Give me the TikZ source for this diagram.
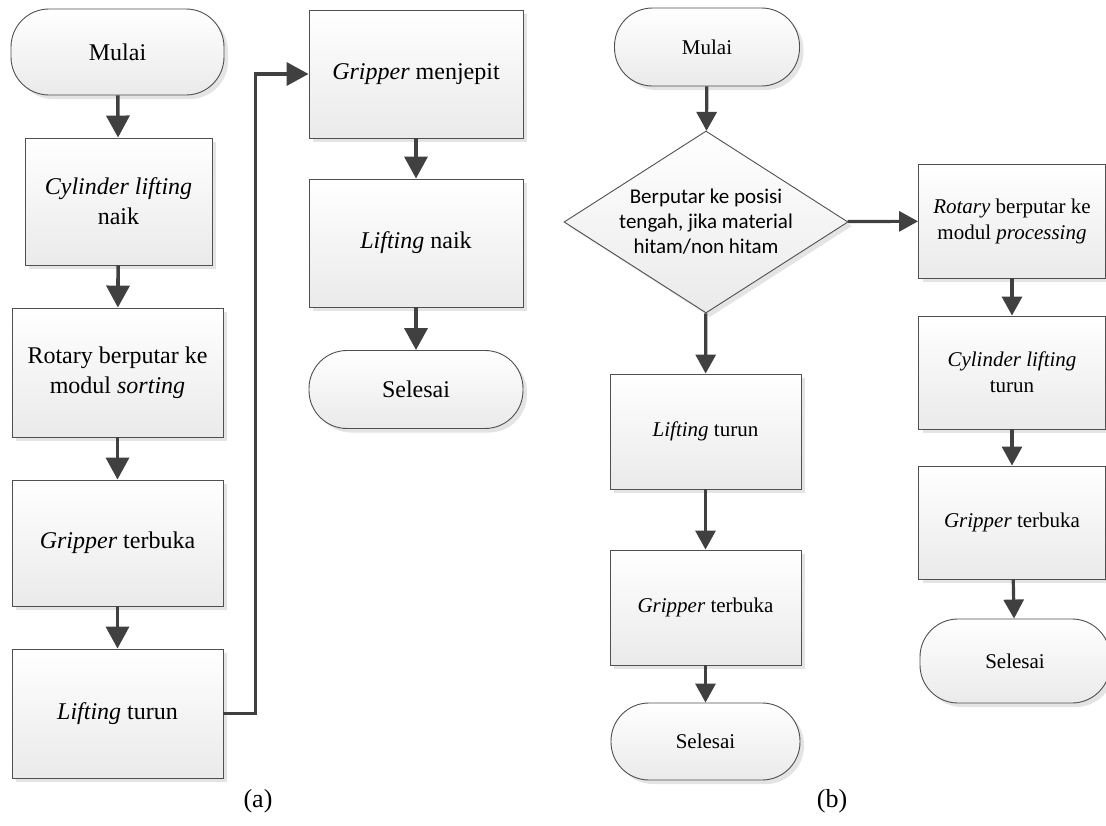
\documentclass[tikz,border=0pt]{standalone}
\usepackage{fontspec}
\setmainfont{Liberation Serif}
\newfontfamily\diamondfont{Carlito}
\usepackage{xcolor}
\usepackage{tikz}
\usetikzlibrary{shapes.geometric, arrows.meta, positioning, calc, shadows}
\definecolor{flowline}{RGB}{64, 64, 64}
\definecolor{flowedge}{RGB}{80, 80, 80}
\definecolor{flowshade}{RGB}{234, 234, 234}
\definecolor{flowshadow}{RGB}{228, 228, 228}
\tikzstyle{block} = [rectangle, draw=flowedge, line width=0.9pt, top color=white, bottom color=flowshade, align=center, drop shadow={shadow xshift=4pt, shadow yshift=-4pt, fill=flowshadow, opacity=1}]
\tikzstyle{term} = [block, rounded corners=38pt]
\tikzstyle{decision} = [diamond, draw=flowedge, line width=0.9pt, top color=white, bottom color=flowshade, align=center, inner sep=0pt, aspect=1.56, font=\diamondfont\fontsize{21}{25}\selectfont, drop shadow={shadow xshift=4pt, shadow yshift=-4pt, fill=flowshadow, opacity=1}]
\tikzstyle{arrow} = [-{Triangle[width=23pt, length=22pt]}, line width=3.6pt, draw=flowline]
\tikzstyle{arrowb} = [-{Triangle[width=20pt, length=19pt]}, line width=3.2pt, draw=flowline]
\tikzstyle{fonta} = [font=\fontsize{24}{30}\selectfont]
\tikzstyle{fontb} = [font=\fontsize{21}{26}\selectfont]

\begin{document}
\begin{tikzpicture}[x=1pt, y=-1pt]
    \useasboundingbox (0,0) rectangle (1106,825);
    \clip (0,0) rectangle (1106,825);

    % Flowchart (a), left column
    \node[term, fonta, minimum width=213pt, minimum height=86pt] (startA) at (117.5, 52) {Mulai};
    \node[block, fonta, minimum width=187pt, minimum height=127pt] (cylupA) at (118.5, 201.5) {\textit{Cylinder lifting}\\naik};
    \node[block, fonta, minimum width=211pt, minimum height=129pt] (rotsortA) at (117.5, 372.5) {Rotary berputar ke\\modul \textit{sorting}};
    \node[block, fonta, minimum width=211pt, minimum height=126pt] (gripopenA) at (117.5, 543) {\textit{Gripper} terbuka};
    \node[block, fonta, minimum width=211pt, minimum height=129pt] (liftdownA) at (117.5, 713.5) {\textit{Lifting} turun};

    % Flowchart (a), right column
    \node[block, fonta, minimum width=214pt, minimum height=128pt] (gripcloseA) at (416, 74) {\textit{Gripper} menjepit};
    \node[block, fonta, minimum width=214pt, minimum height=128pt] (liftupA) at (416, 243) {\textit{Lifting} naik};
    \node[term, fonta, minimum width=214pt, minimum height=78pt] (endA) at (416, 389.5) {Selesai};

    \draw[arrow] (startA) -- (cylupA);
    \draw[arrow] (cylupA) -- (rotsortA);
    \draw[arrow] (rotsortA) -- (gripopenA);
    \draw[arrow] (gripopenA) -- (liftdownA);
    \draw[arrow] (liftdownA.east) -- ++(32,0) |- (gripcloseA.west);
    \draw[arrow] (gripcloseA) -- (liftupA);
    \draw[arrow] (liftupA) -- (endA);

    % Flowchart (b)
    \node[term, fontb, minimum width=185pt, minimum height=78pt] (startB) at (707, 47) {Mulai};
    \node[decision, minimum width=284pt, minimum height=182pt] (turnB) at (706, 222) {Berputar ke posisi\\tengah, jika material\\hitam/non hitam};
    \node[block, fontb, minimum width=191pt, minimum height=115pt] (liftdownB) at (705.5, 431.5) {\textit{Lifting} turun};
    \node[block, fontb, minimum width=191pt, minimum height=115pt] (gripopenB) at (705.5, 607.5) {\textit{Gripper} terbuka};
    \node[term, fontb, minimum width=189pt, minimum height=77pt] (endB) at (705.5, 741.5) {Selesai};

    \node[block, fontb, minimum width=187pt, minimum height=114pt] (rotprocB) at (1012, 221) {\textit{Rotary} berputar ke\\modul \textit{processing}};
    \node[block, fontb, minimum width=187pt, minimum height=113pt] (cyldownB) at (1012, 372.5) {\textit{Cylinder lifting}\\turun};
    \node[block, fontb, minimum width=187pt, minimum height=113pt] (gripopenC) at (1012, 522.5) {\textit{Gripper} terbuka};
    \node[term, fontb, minimum width=190pt, minimum height=84pt] (endC) at (1015, 661) {Selesai};

    \draw[arrowb] (startB) -- (turnB);
    \draw[arrowb] (turnB) -- (liftdownB);
    \draw[arrowb] (liftdownB) -- (gripopenB);
    \draw[arrowb] (gripopenB) -- (endB);
    \draw[arrowb] (turnB) -- (rotprocB);
    \draw[arrowb] (rotprocB) -- (cyldownB);
    \draw[arrowb] (cyldownB) -- (gripopenC);
    \draw[arrowb] (gripopenC) -- (endC);

    % Captions
    \node[font=\fontsize{26}{30}\selectfont] (capA) at (258, 801) {(a)};
    \node[font=\fontsize{26}{30}\selectfont] (capB) at (832, 801) {(b)};
\end{tikzpicture}
\end{document}
